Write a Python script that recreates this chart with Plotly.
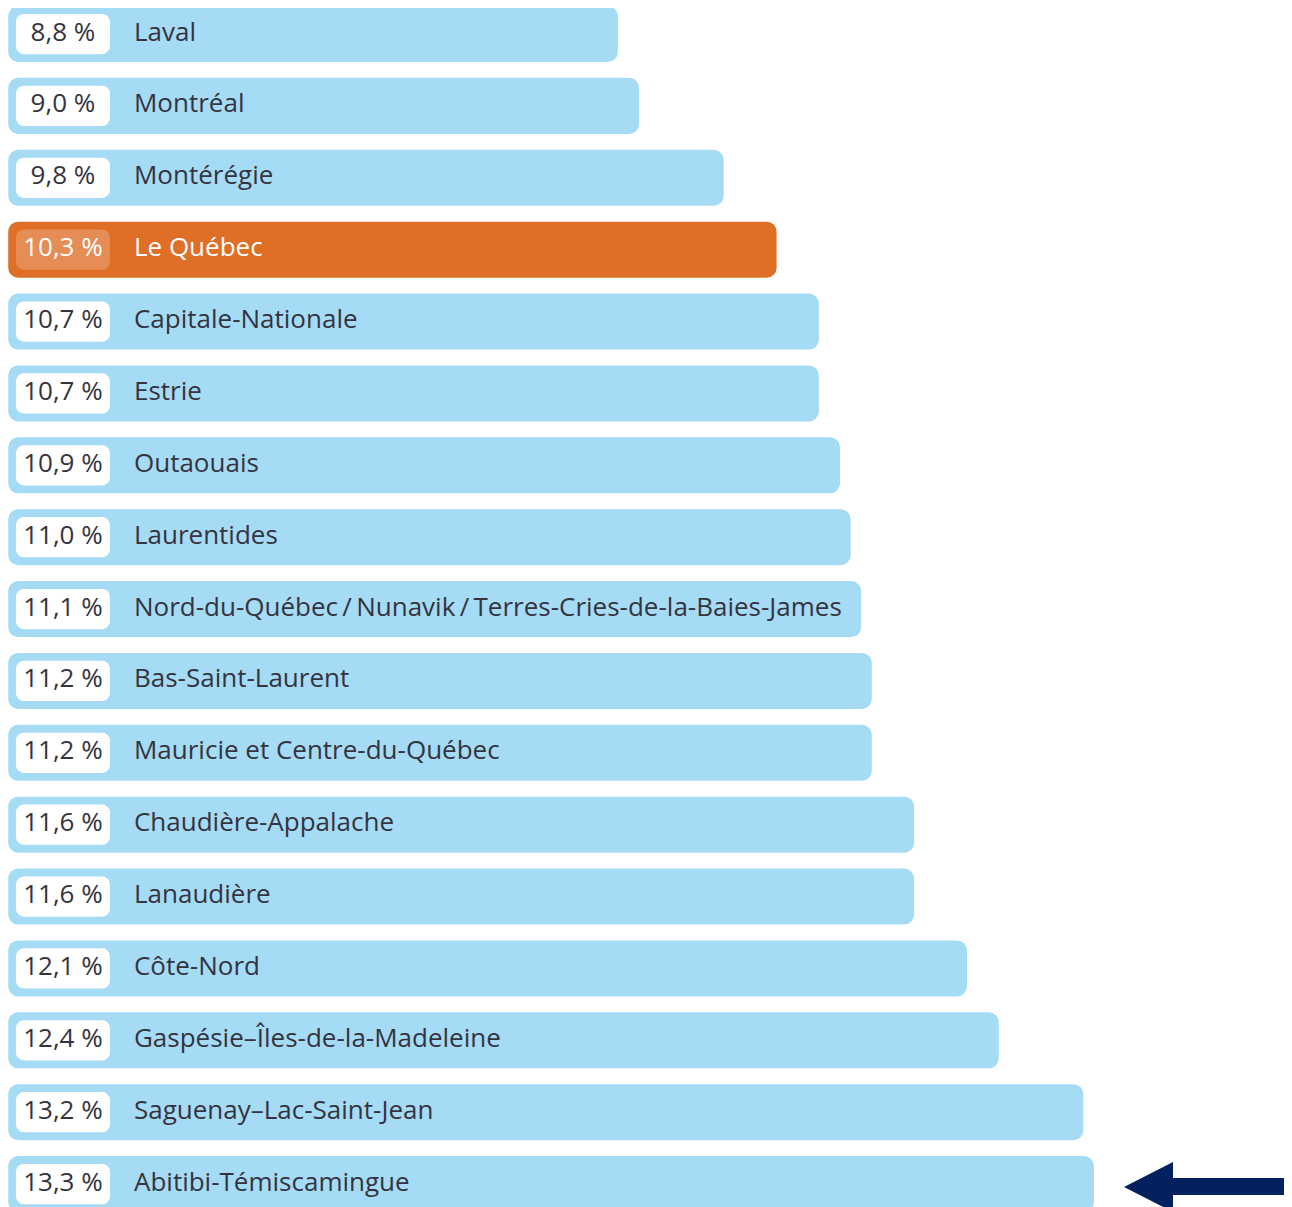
import plotly.graph_objects as go

regions = ["Laval", "Montréal", "Montérégie", "Le Québec", "Capitale-Nationale", "Estrie",
           "Outaouais", "Laurentides",
           "Nord-du-Québec\u2009/\u2009Nunavik\u2009/\u2009Terres-Cries-de-la-Baies-James",
           "Bas-Saint-Laurent", "Mauricie et Centre-du-Québec", "Chaudière-Appalache",
           "Lanaudière", "Côte-Nord", "Gaspésie–Îles-de-la-Madeleine",
           "Saguenay–Lac-Saint-Jean", "Abitibi-Témiscamingue"]
values = [8.8, 9.0, 9.8, 10.3, 10.7, 10.7, 10.9, 11.0, 11.1, 11.2, 11.2, 11.6, 11.6, 12.1, 12.4, 13.2, 13.3]
highlight = "Le Québec"

pct_labels = [f"{v:.1f}".replace(".", ",") + " %" for v in values]

BASE = 3.036
BOX_BASE = 3.109
BOX_LEN = 0.889
BLUE = "#a6dbf6"
ORANGE = "#df6e27"
TEXT = "#34343f"

bar_colors = [ORANGE if r == highlight else BLUE for r in regions]
box_colors = ["rgba(255,255,255,0.22)" if r == highlight else "#ffffff" for r in regions]
txt_colors = ["#ffffff" if r == highlight else TEXT for r in regions]

fig = go.Figure()
fig.add_trace(go.Bar(
    y=regions, x=[v - BASE for v in values], base=BASE, orientation="h",
    width=0.78, marker=dict(color=bar_colors, cornerradius=10, line=dict(width=0)),
    hoverinfo="skip", showlegend=False))
fig.add_trace(go.Bar(
    y=regions, x=[BOX_LEN] * len(regions), base=BOX_BASE, orientation="h",
    width=0.56, marker=dict(color=box_colors, cornerradius=8, line=dict(width=0)),
    hoverinfo="skip", showlegend=False))
fig.add_trace(go.Scatter(
    y=regions, x=[BOX_BASE + BOX_LEN / 2] * len(regions), mode="text",
    text=pct_labels, textposition="middle center",
    textfont=dict(family="Open Sans", size=26, color=txt_colors),
    hoverinfo="skip", showlegend=False))
fig.add_trace(go.Scatter(
    y=regions, x=[4.225] * len(regions), mode="text",
    text=regions, textposition="middle right",
    textfont=dict(family="Open Sans", size=26, color=txt_colors),
    hoverinfo="skip", showlegend=False))

# page has an 8px body margin; the figure starts at (8, 8) in the window
W, H = 1292, 1207
OFF = 8
def px(x, y):
    return f"{(x - OFF) / W:.5f},{1 - (y - OFF) / H:.5f}"
path = ("M " + px(1124, 1187) + " L " + px(1173, 1162) + " L " + px(1173, 1178) +
        " L " + px(1300, 1178) + " L " + px(1300, 1195) + " L " + px(1173, 1195) +
        " L " + px(1173, 1212) + " Z")
fig.add_shape(type="path", path=path, xref="paper", yref="paper",
              fillcolor="#04215f", line=dict(width=0))

fig.update_layout(
    width=W, height=H, margin=dict(l=0, r=0, t=0, b=0),
    paper_bgcolor="white", plot_bgcolor="white", barmode="overlay",
    xaxis=dict(range=[3.034, 15.248], visible=False, fixedrange=True),
    yaxis=dict(range=[16.43, -0.362], visible=False, fixedrange=True,
               categoryorder="array", categoryarray=regions),
)
fig.write_html("out.html")
